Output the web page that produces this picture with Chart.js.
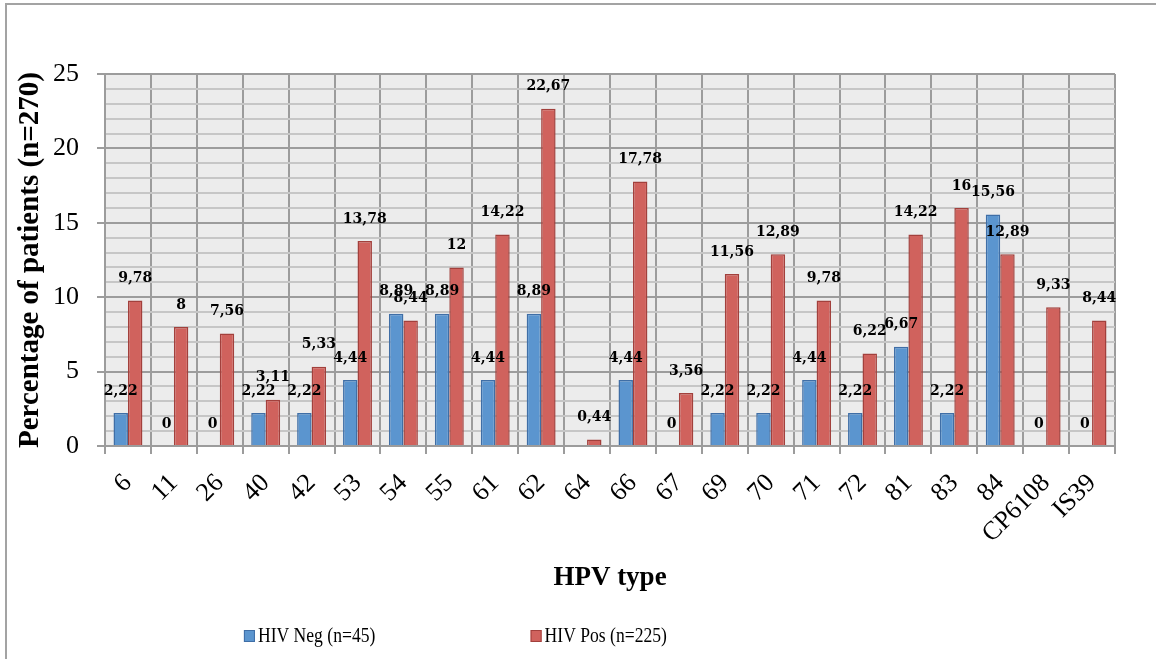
<!DOCTYPE html>
<html>
<head>
<meta charset="utf-8">
<script src="https://cdn.jsdelivr.net/npm/chart.js@4.4.1/dist/chart.umd.min.js"></script>
<style>
    body { margin: 0; background: #ffffff; }
    #hpvChart { display: block; }
</style>
</head>
<body>
<canvas id="hpvChart" width="1156" height="659"></canvas>
<script>
// HPV types on the x axis
const hpvTypes = ['6', '11', '26', '40', '42', '53', '54', '55', '61', '62', '64',
    '66', '67', '69', '70', '71', '72', '81', '83', '84', 'CP6108', 'IS39'];

// % of patients per group
const hivNeg = [2.22, 0, 0, 2.22, 2.22, 4.44, 8.89, 8.89, 4.44, 8.89, null,
    4.44, 0, 2.22, 2.22, 4.44, 2.22, 6.67, 2.22, 15.56, 0, 0];
const hivPos = [9.78, 8, 7.56, 3.11, 5.33, 13.78, 8.44, 12, 14.22, 22.67, 0.44,
    17.78, 3.56, 11.56, 12.89, 9.78, 6.22, 14.22, 16, 12.89, 9.33, 8.44];

const yMax = 25;
const yMajorStep = 5;

const serif = "'Liberation Serif', 'DejaVu Serif', serif";

// white page + grey frame like the word/excel export
const framePlugin = {
    id: 'frame',
    beforeDraw(chart) {
        const ctx = chart.ctx;
        ctx.save();
        ctx.fillStyle = '#ffffff';
        ctx.fillRect(0, 0, chart.width, chart.height);
        ctx.strokeStyle = '#a3a3a3';
        ctx.lineWidth = 2;
        ctx.strokeRect(6, 4, chart.width + 10, chart.height + 10);
        // plot area background
        const a = chart.chartArea;
        ctx.fillStyle = '#ececec';
        ctx.fillRect(a.left, a.top, a.right - a.left, a.bottom - a.top);
        ctx.restore();
    }
};

// value labels above each bar (comma decimals)
const valueLabels = {
    id: 'valueLabels',
    afterDatasetsDraw(chart) {
        const ctx = chart.ctx;
        ctx.save();
        ctx.font = "bold 14px 'DejaVu Serif', serif";
        ctx.fillStyle = '#000000';
        ctx.textAlign = 'center';
        ctx.textBaseline = 'middle';
        chart.data.datasets.forEach((ds, i) => {
            chart.getDatasetMeta(i).data.forEach((bar, j) => {
                const v = ds.data[j];
                if (v === null || v === undefined) return;
                ctx.fillText(String(v).replace('.', ','), bar.x, bar.y - 22);
            });
        });
        ctx.restore();
    }
};

// legend spread out like the original (text a bit condensed)
const spreadLegend = {
    id: 'spreadLegend',
    afterDraw(chart) {
        const ctx = chart.ctx;
        const xs = [chart.width * 0.211, chart.width * 0.459];
        const y = chart.height - 23;
        ctx.save();
        ctx.textBaseline = 'middle';
        chart.data.datasets.forEach((ds, i) => {
            ctx.fillStyle = ds.backgroundColor;
            ctx.strokeStyle = ds.borderColor;
            ctx.lineWidth = 1;
            ctx.fillRect(xs[i], y - 6, 11, 12);
            ctx.strokeRect(xs[i] + 0.5, y - 5.5, 10, 11);
            ctx.save();
            ctx.translate(xs[i] + 14, y);
            ctx.scale(0.8, 1);
            ctx.font = "22px " + serif;
            ctx.fillStyle = '#000000';
            ctx.fillText(ds.label, 0, 0);
            ctx.restore();
        });
        ctx.restore();
    }
};

const ctx = document.getElementById('hpvChart').getContext('2d');
new Chart(ctx, {
    type: 'bar',
    data: {
        labels: hpvTypes,
        datasets: [{
            label: 'HIV Neg (n=45)',
            data: hivNeg,
            backgroundColor: '#5b95cf',
            borderColor: '#3f6ea6',
            borderWidth: 1.5
        }, {
            label: 'HIV Pos (n=225)',
            data: hivPos,
            backgroundColor: '#d0625d',
            borderColor: '#a2403c',
            borderWidth: 1.5
        }]
    },
    options: {
        responsive: false,
        animation: false,
        devicePixelRatio: 1,
        categoryPercentage: 0.63,
        barPercentage: 1.0,
        layout: { padding: { top: 74, right: 41, left: 0, bottom: 63 } },
        plugins: {
            legend: { display: false },
            tooltip: { enabled: false }
        },
        scales: {
            x: {
                offset: true,
                grid: {
                    offset: true,
                    color: '#9c9c9c',
                    lineWidth: 2,
                    tickLength: 8
                },
                border: { color: '#9c9c9c', width: 2 },
                ticks: {
                    color: '#000000',
                    font: { family: serif, size: 26 },
                    maxRotation: 45,
                    minRotation: 45,
                    autoSkip: false,
                    padding: 14
                },
                title: {
                    display: true,
                    text: 'HPV type',
                    color: '#000000',
                    font: { family: serif, size: 27, weight: 'bold' },
                    padding: { top: 0, bottom: 2 }
                },
                afterFit(axis) { axis.height = 150; }
            },
            y: {
                min: 0,
                max: yMax,
                ticks: {
                    stepSize: 1,
                    autoSkip: false,
                    color: '#000000',
                    font: { family: serif, size: 26 },
                    padding: 18,
                    callback: v => (v % yMajorStep === 0 ? v : '')
                },
                grid: {
                    color: c => (c.tick && c.tick.value % yMajorStep === 0 ? '#9c9c9c' : '#c6c6c6'),
                    tickColor: c => (c.tick && c.tick.value % yMajorStep === 0 ? '#9c9c9c' : 'rgba(0,0,0,0)'),
                    lineWidth: 2,
                    tickLength: 8
                },
                border: { color: '#9c9c9c', width: 2 },
                title: {
                    display: true,
                    text: 'Percentage of patients (n=270)',
                    color: '#000000',
                    font: { family: serif, size: 29, weight: 'bold' },
                    padding: { top: 13, bottom: 0 }
                },
                afterFit(axis) { axis.width = 105; }
            }
        }
    },
    plugins: [framePlugin, valueLabels, spreadLegend]
});
</script>
</body>
</html>
